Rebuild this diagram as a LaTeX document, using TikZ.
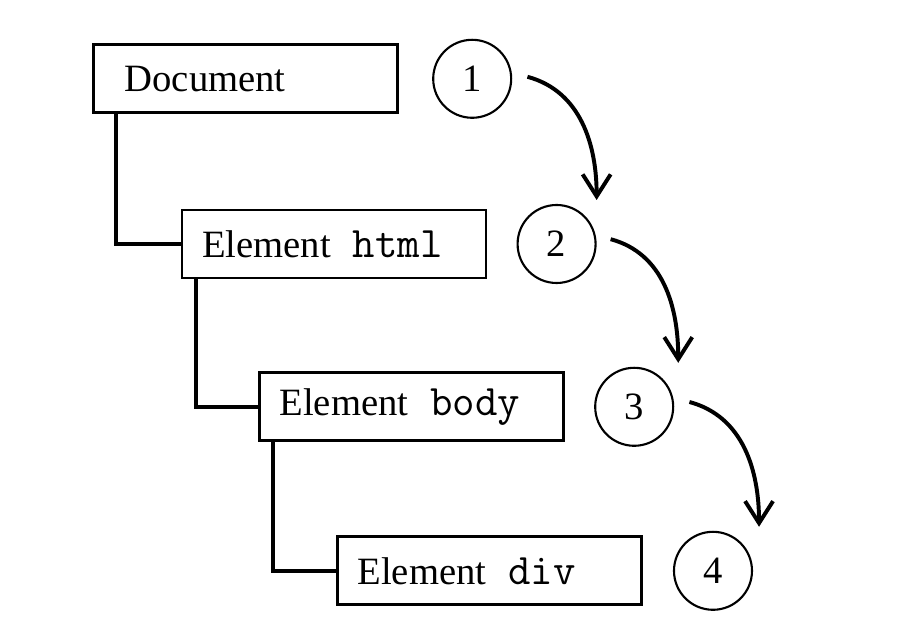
\documentclass[tikz,border=0pt]{standalone}
\usepackage{fontspec}
\setmainfont{Liberation Serif}
\usetikzlibrary{positioning,arrows.meta}

\newcommand{\markup}[1]{\hspace{0.55cm}{\fontsize{31}{33}\selectfont\ttfamily #1}}

\begin{document}
\begin{tikzpicture}[
        font=\fontsize{27.5}{32}\selectfont,
        treebox/.style={draw=black, line width=1.9pt, minimum height=1.7cm, inner xsep=0.5cm, text width=6.6cm, align=left},
        stepno/.style={draw=black, circle, line width=1.5pt, minimum size=1.95cm, inner sep=0pt},
        branch/.style={draw=black, line width=2.8pt},
        walk/.style={draw=black, line width=2.8pt, -{Straight Barb[length=0.55cm,width=0.7cm]}}
    ]
            \useasboundingbox (0.00,0.00) rectangle (22.60,15.85);
            % the tree
            \node[treebox, inner xsep=0.775cm, text width=6.05cm] (doc) at (6.14,13.88) {Document};
            \node[treebox] (html) at (8.35,9.75) {Element\markup{html}};
            \node[treebox] (body) at (10.29,5.68) {Element\markup{body}};
            \node[treebox] (div) at (12.24,1.58) {Element\markup{div}};
            \draw[branch] ([xshift=0.60cm]doc.south west) |- (html.west);
            \draw[branch] ([xshift=0.375cm]html.south west) |- (body.west);
            \draw[branch] ([xshift=0.375cm]body.south west) |- (div.west);
            % the steps
            \node[stepno, right=0.83cm of doc] (one) {1};
            \node[stepno, right=0.73cm of html] (two) {2};
            \node[stepno, right=0.73cm of body] (three) {3};
            \node[stepno, right=0.75cm of div] (four) {4};
            \draw[walk] ([shift={(0.38,0.05)}]one.east) to[out=-15,in=90] ([shift={(0.00,1.10)}]two.east);
            \draw[walk] ([shift={(0.35,0.12)}]two.east) to[out=-15,in=90] ([shift={(0.10,1.10)}]three.east);
            \draw[walk] ([shift={(0.38,0.12)}]three.east) to[out=-15,in=90] ([shift={(0.15,1.10)}]four.east);
\end{tikzpicture}
\end{document}
